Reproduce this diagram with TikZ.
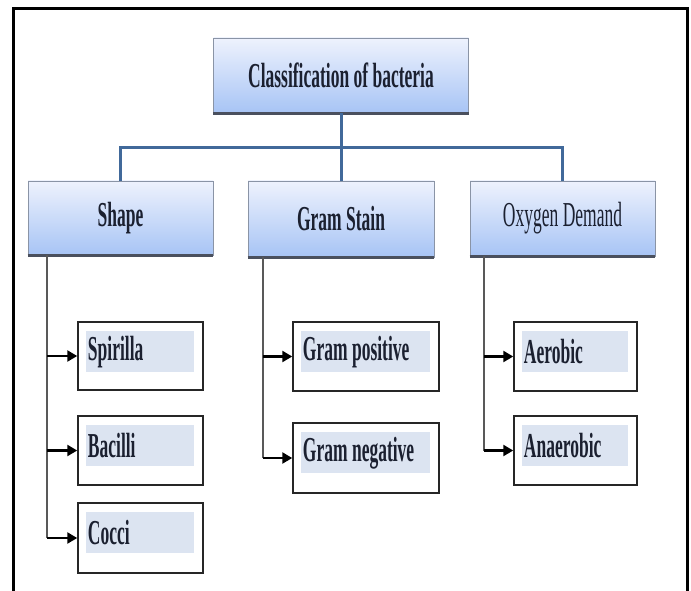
\documentclass[tikz,border=0pt]{standalone}
\usepackage{fontspec}
\setmainfont{Liberation Serif}[FakeStretch=0.5]
\usetikzlibrary{arrows.meta,calc}
\definecolor{hdtop}{HTML}{EEF2FD}
\definecolor{hdbot}{HTML}{A7C4F5}
\definecolor{hdline}{HTML}{8A94A6}
\definecolor{hdshadow}{HTML}{4A505E}
\definecolor{conn}{HTML}{41699A}
\definecolor{inner}{HTML}{DCE4F1}
\definecolor{txt}{HTML}{1B2030}
\tikzset{
  hdbox/.style={draw=hdline, line width=0.8pt, top color=hdtop, bottom color=hdbot,
    font=\fontsize{35}{36}\selectfont\bfseries, text=txt, inner sep=0pt},
  hdshade/.style={draw=hdshadow, line width=3pt},
  conline/.style={draw=conn, line width=3pt},
  cbox/.style={draw=black!85, line width=1.5pt, fill=white, inner sep=0pt},
  ibox/.style={fill=inner, inner sep=0pt, anchor=north west},
  ctext/.style={font=\fontsize{35}{36}\selectfont\bfseries, text=txt, inner sep=0pt, anchor=west},
  vline/.style={draw=black!65, line width=1.5pt},
  arr/.style={draw=black, line width=2.5pt, -{Triangle[length=10pt,width=11pt]}},
  frame/.style={draw=black, line width=3pt}
}
\begin{document}
\begin{tikzpicture}[x=1pt,y=-1pt]
\useasboundingbox (0,0) rectangle (691,591);
\draw[frame] (13,591) -- (13,8.5) -- (687,8.5) -- (687,591);

% header boxes
\node[hdbox, minimum width=255pt, minimum height=75pt] (top) at (341,75.5) {Classification of bacteria};
\node[hdbox, minimum width=185pt, minimum height=74pt] (shape) at (120.5,218) {Shape};
\node[hdbox, minimum width=186pt, minimum height=76pt] (gram) at (341,219) {Gram Stain};
\node[hdbox, minimum width=185pt, minimum height=75pt, font=\fontsize{35}{36}\selectfont\mdseries] (oxy) at (562.5,218.5) {Oxygen Demand};
\foreach \n in {top,shape,gram,oxy}{\draw[hdshade] (\n.south west) -- (\n.south east);}

% connectors from top
\coordinate (bus) at (341,148);
\draw[conline] (top.south) -- (bus);
\draw[conline] (bus) -| (shape.north);
\draw[conline] (bus) -- (gram.north);
\draw[conline] (bus) -| (oxy.north);

% child boxes
\node[cbox, minimum width=125pt, minimum height=68pt] (spir) at (140.5,356) {};
\node[cbox, minimum width=125pt, minimum height=69pt] (bac) at (140.5,450.5) {};
\node[cbox, minimum width=125pt, minimum height=70pt] (cocci) at (140.5,538) {};
\node[cbox, minimum width=146pt, minimum height=69pt] (gpos) at (366,356.5) {};
\node[cbox, minimum width=146pt, minimum height=70pt] (gneg) at (366,458) {};
\node[cbox, minimum width=123pt, minimum height=69pt] (aer) at (575.5,356.5) {};
\node[cbox, minimum width=123pt, minimum height=69pt] (ana) at (575.5,450.5) {};

\foreach \n/\w/\t in {spir/108/Spirilla, bac/108/Bacilli, cocci/108/Cocci, gpos/129/Gram positive, gneg/129/Gram negative, aer/106/Aerobic, ana/106/Anaerobic}{
  \node[ibox, minimum width=\w pt, minimum height=41pt] (\n I) at ([xshift=9pt,yshift=-10pt]\n.north west) {};
  \node[ctext] (\n T) at ([xshift=1.5pt]\n I.west) {\t};
}

% vertical lines and arrows
\coordinate (sl) at (47,255);
\coordinate (gl) at (263,257);
\coordinate (ol) at (484,256);
\draw[vline] (sl) -- (sl |- cocci.west);
\draw[vline] (gl) -- (gl |- gneg.west);
\draw[vline] (ol) -- (ol |- ana.west);
\foreach \c/\n in {sl/spir, sl/bac, sl/cocci, gl/gpos, gl/gneg, ol/aer, ol/ana}{
  \draw[arr] (\c |- \n.west) -- (\n.west);
}
\end{tikzpicture}
\end{document}
